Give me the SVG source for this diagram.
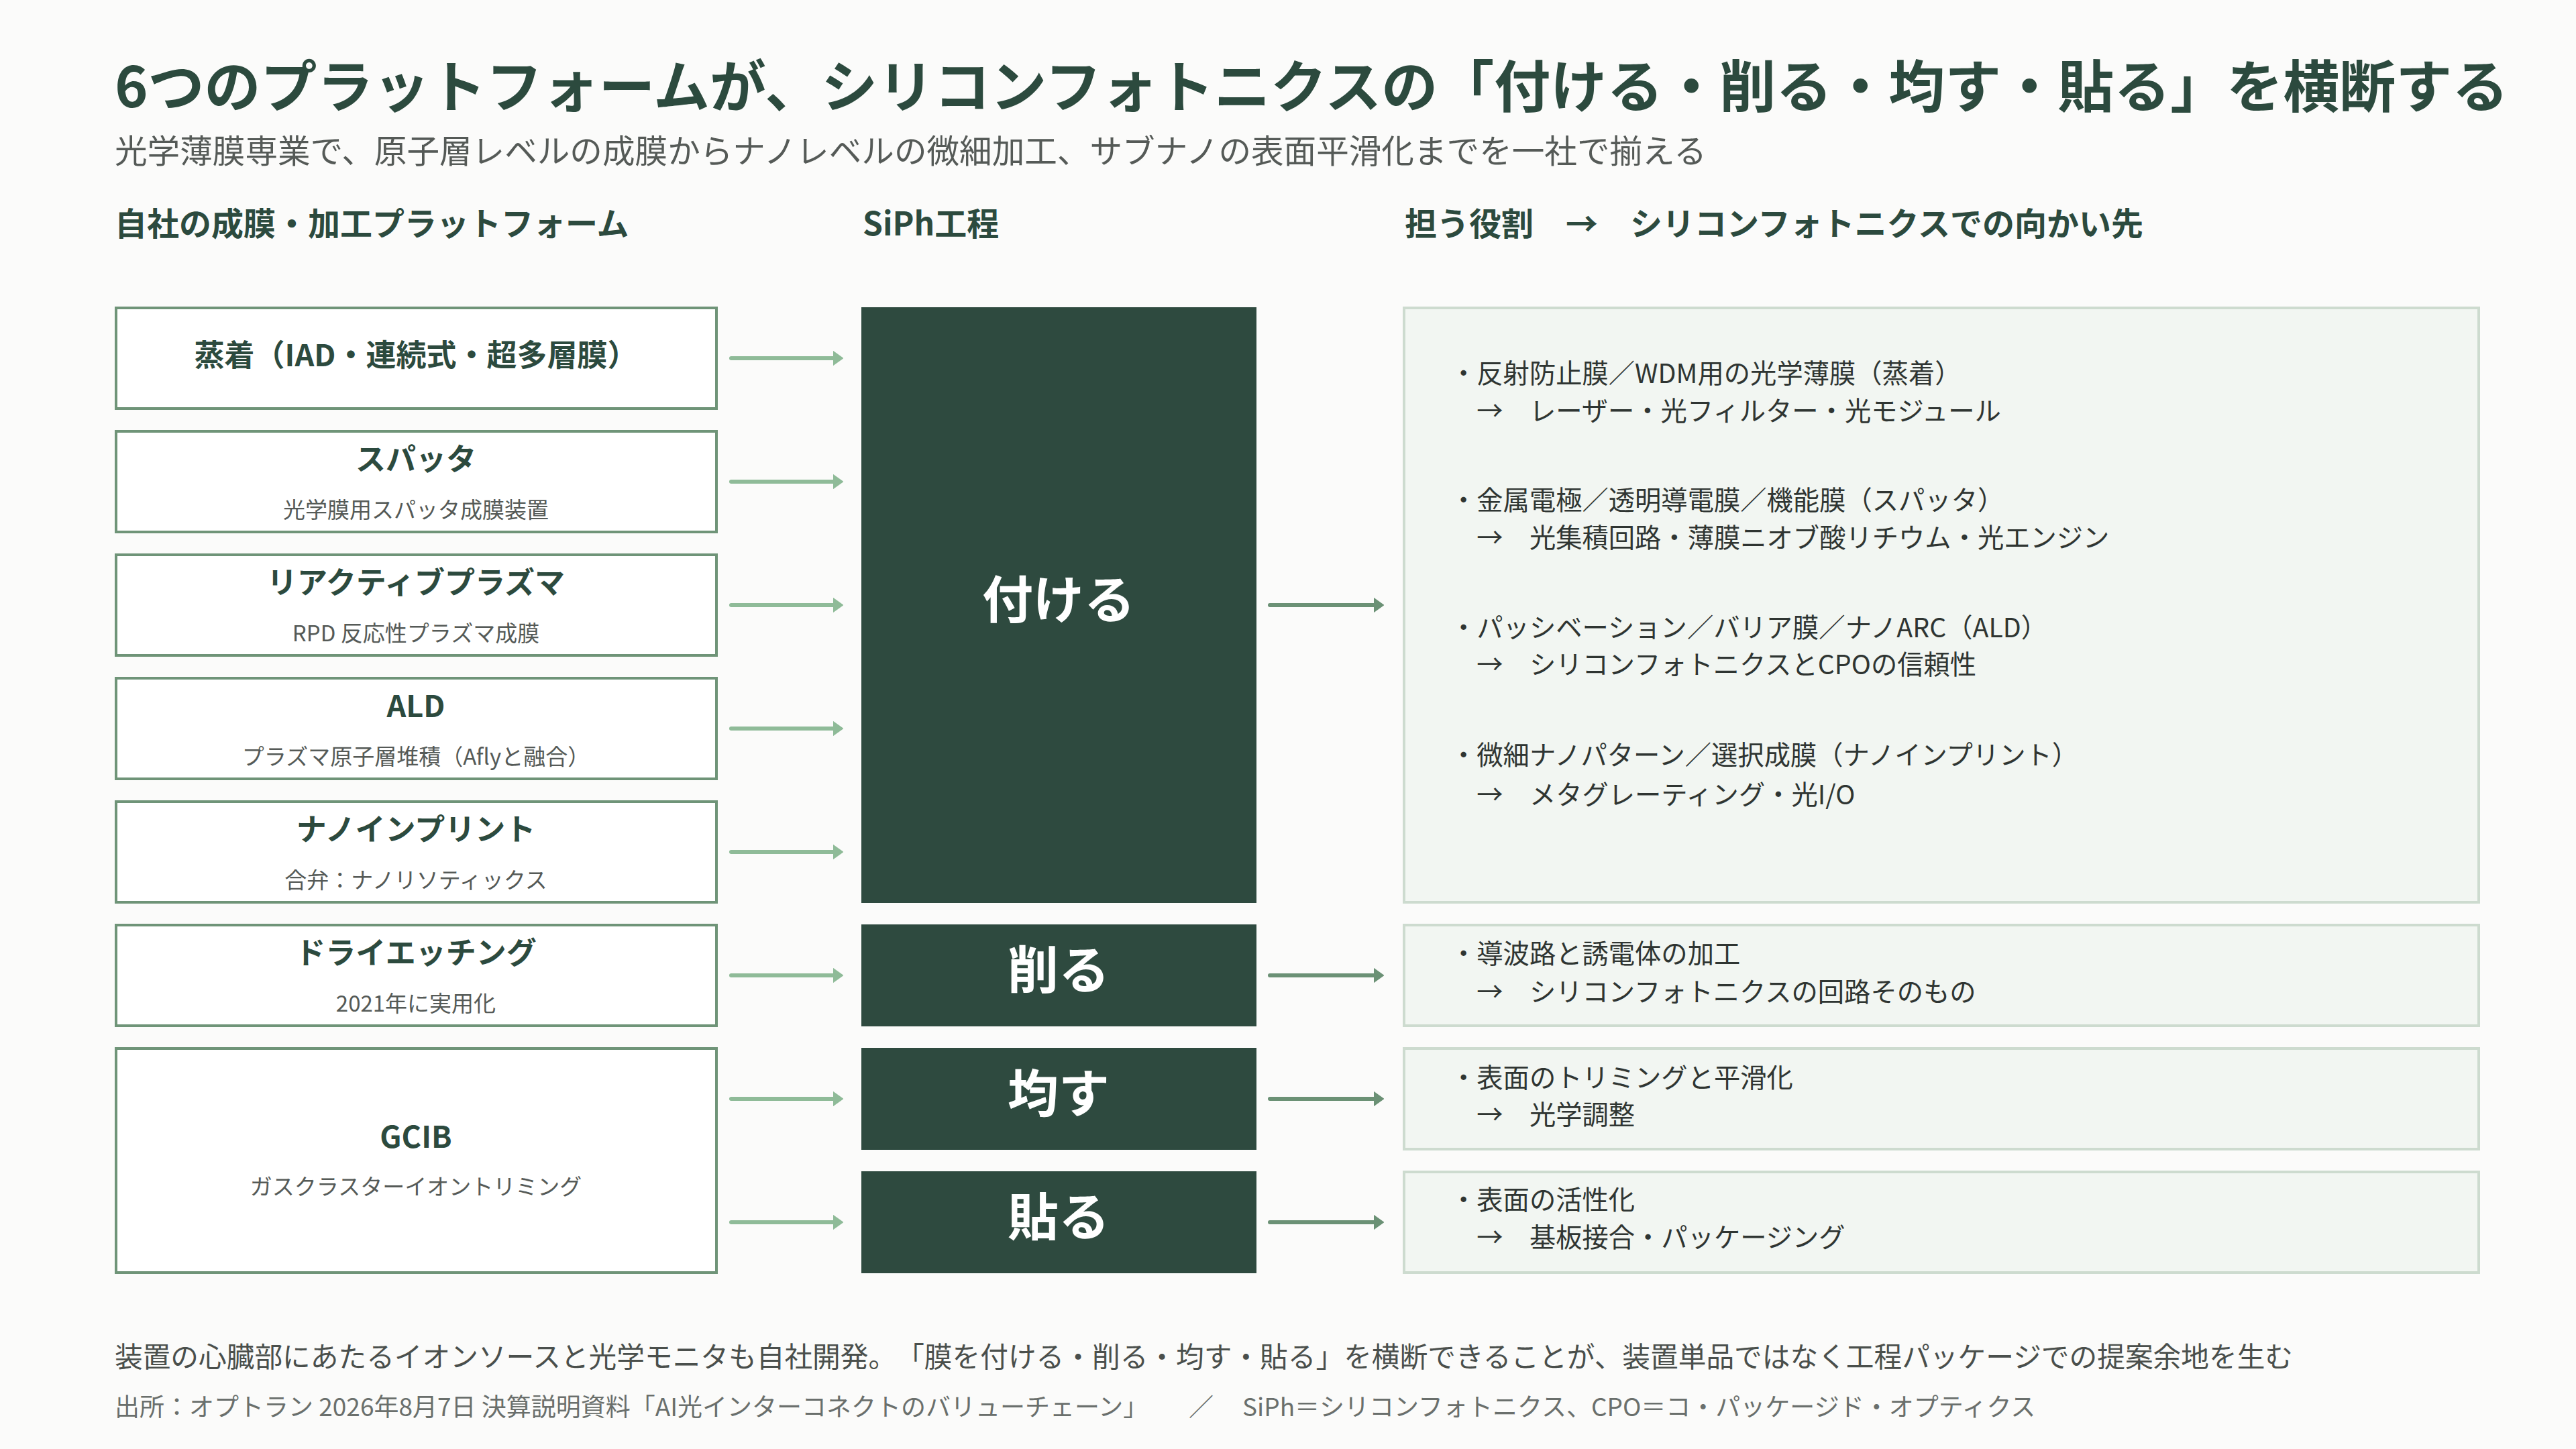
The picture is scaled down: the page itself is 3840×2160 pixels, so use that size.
<svg xmlns="http://www.w3.org/2000/svg" width="3840" height="2160" viewBox="0 0 3840 2160">
<defs>
<style>
text{font-family:"Noto Sans CJK JP","Noto Sans",sans-serif;text-spacing-trim:space-all;}
.title{font-size:84px;font-weight:700;fill:#2c4a3e;}
.sub{font-size:48.6px;fill:#555a57;}
.colh{font-size:48px;font-weight:700;fill:#2c4a3e;}
.lbox{fill:#ffffff;stroke:#6f9478;stroke-width:4;}
.lt{font-size:45px;font-weight:700;fill:#2c4a3e;text-anchor:middle;}
.ls{font-size:33px;fill:#555a57;text-anchor:middle;}
.cbox{fill:#2e4a3f;stroke:#2e4a3f;stroke-width:2;}
.ct{font-size:76px;font-weight:700;fill:#ffffff;text-anchor:middle;}
.rbox{fill:#f2f6f2;stroke:#cddbcf;stroke-width:4;}
.rt{font-size:39.3px;fill:#2f3532;}
.a1{stroke:#8fbb98;stroke-width:6;stroke-linecap:round;fill:none;}
.a2{stroke:#6b9175;stroke-width:6;stroke-linecap:round;fill:none;}
.foot{font-size:41.7px;fill:#4a4f4c;}
.src{font-size:37px;fill:#6a6f6c;}
</style>
<marker id="h1" markerUnits="userSpaceOnUse" markerWidth="20" markerHeight="24" viewBox="0 -12 20 24" refX="2" refY="0" orient="auto">
<path d="M0,-10 L14,0 L0,10 Z" fill="#8fbb98" stroke="#8fbb98" stroke-width="2" stroke-linejoin="round"/>
</marker>
<marker id="h2" markerUnits="userSpaceOnUse" markerWidth="20" markerHeight="24" viewBox="0 -12 20 24" refX="2" refY="0" orient="auto">
<path d="M0,-10 L14,0 L0,10 Z" fill="#6b9175" stroke="#6b9175" stroke-width="2" stroke-linejoin="round"/>
</marker>
</defs>
<rect width="3840" height="2160" fill="#fbfbfa"/>

<g id="header">
<text class="title" x="171" y="160">6つのプラットフォームが、シリコンフォトニクスの「付ける・削る・均す・貼る」を横断する</text>
<text class="sub" x="171" y="243">光学薄膜専業で、原子層レベルの成膜からナノレベルの微細加工、サブナノの表面平滑化までを一社で揃える</text>
<text class="colh" x="171" y="351">自社の成膜・加工プラットフォーム</text>
<text class="colh" x="1286" y="351">SiPh工程</text>
<text class="colh" x="2094" y="351">担う役割　→　シリコンフォトニクスでの向かい先</text>
</g>

<g id="platform-evaporation">
<rect class="lbox" x="173" y="459" width="895" height="150"/>
<text class="lt" x="620" y="546">蒸着（IAD・連続式・超多層膜）</text>
</g>
<g id="platform-sputter">
<rect class="lbox" x="173" y="643" width="895" height="150"/>
<text class="lt" x="620" y="701">スパッタ</text>
<text class="ls" x="620" y="772">光学膜用スパッタ成膜装置</text>
</g>
<g id="platform-rpd">
<rect class="lbox" x="173" y="827" width="895" height="150"/>
<text class="lt" x="620" y="885">リアクティブプラズマ</text>
<text class="ls" x="620" y="956">RPD 反応性プラズマ成膜</text>
</g>
<g id="platform-ald">
<rect class="lbox" x="173" y="1011" width="895" height="150"/>
<text class="lt" x="620" y="1069">ALD</text>
<text class="ls" x="620" y="1140">プラズマ原子層堆積（Aflyと融合）</text>
</g>
<g id="platform-nanoimprint">
<rect class="lbox" x="173" y="1195" width="895" height="150"/>
<text class="lt" x="620" y="1253">ナノインプリント</text>
<text class="ls" x="620" y="1324">合弁：ナノリソティックス</text>
</g>
<g id="platform-dryetch">
<rect class="lbox" x="173" y="1379" width="895" height="150"/>
<text class="lt" x="620" y="1437">ドライエッチング</text>
<text class="ls" x="620" y="1508">2021年に実用化</text>
</g>
<g id="platform-gcib">
<rect class="lbox" x="173" y="1563" width="895" height="334"/>
<text class="lt" x="620" y="1711">GCIB</text>
<text class="ls" x="620" y="1781">ガスクラスターイオントリミング</text>
</g>

<g id="step-deposit">
<rect class="cbox" x="1285" y="459" width="587" height="886"/>
<text class="ct" x="1578" y="922">付ける</text>
</g>
<g id="step-etch">
<rect class="cbox" x="1285" y="1379" width="587" height="150"/>
<text class="ct" x="1578" y="1474">削る</text>
</g>
<g id="step-smooth">
<rect class="cbox" x="1285" y="1563" width="587" height="150"/>
<text class="ct" x="1578" y="1658">均す</text>
</g>
<g id="step-bond">
<rect class="cbox" x="1285" y="1747" width="587" height="150"/>
<text class="ct" x="1578" y="1842">貼る</text>
</g>

<g id="role-deposit">
<rect class="rbox" x="2093" y="459" width="1602" height="886"/>
<text class="rt" x="2162" y="571">・反射防止膜／WDM用の光学薄膜（蒸着）</text>
<text class="rt" x="2162" y="627">　→　レーザー・光フィルター・光モジュール</text>
<text class="rt" x="2162" y="760">・金属電極／透明導電膜／機能膜（スパッタ）</text>
<text class="rt" x="2162" y="816">　→　光集積回路・薄膜ニオブ酸リチウム・光エンジン</text>
<text class="rt" x="2162" y="950">・パッシベーション／バリア膜／ナノARC（ALD）</text>
<text class="rt" x="2162" y="1005">　→　シリコンフォトニクスとCPOの信頼性</text>
<text class="rt" x="2162" y="1140">・微細ナノパターン／選択成膜（ナノインプリント）</text>
<text class="rt" x="2162" y="1199">　→　メタグレーティング・光I/O</text>
</g>
<g id="role-etch">
<rect class="rbox" x="2093" y="1379" width="1602" height="150"/>
<text class="rt" x="2162" y="1436">・導波路と誘電体の加工</text>
<text class="rt" x="2162" y="1493">　→　シリコンフォトニクスの回路そのもの</text>
</g>
<g id="role-smooth">
<rect class="rbox" x="2093" y="1563" width="1602" height="150"/>
<text class="rt" x="2162" y="1621">・表面のトリミングと平滑化</text>
<text class="rt" x="2162" y="1676">　→　光学調整</text>
</g>
<g id="role-bond">
<rect class="rbox" x="2093" y="1747" width="1602" height="150"/>
<text class="rt" x="2162" y="1803">・表面の活性化</text>
<text class="rt" x="2162" y="1859">　→　基板接合・パッケージング</text>
</g>

<g id="connectors">
<line class="a1" x1="1090" y1="534" x2="1244" y2="534" marker-end="url(#h1)"/>
<line class="a1" x1="1090" y1="718" x2="1244" y2="718" marker-end="url(#h1)"/>
<line class="a1" x1="1090" y1="902" x2="1244" y2="902" marker-end="url(#h1)"/>
<line class="a1" x1="1090" y1="1086" x2="1244" y2="1086" marker-end="url(#h1)"/>
<line class="a1" x1="1090" y1="1270" x2="1244" y2="1270" marker-end="url(#h1)"/>
<line class="a1" x1="1090" y1="1454" x2="1244" y2="1454" marker-end="url(#h1)"/>
<line class="a1" x1="1090" y1="1638" x2="1244" y2="1638" marker-end="url(#h1)"/>
<line class="a1" x1="1090" y1="1822" x2="1244" y2="1822" marker-end="url(#h1)"/>
<line class="a2" x1="1893" y1="902" x2="2050" y2="902" marker-end="url(#h2)"/>
<line class="a2" x1="1893" y1="1454" x2="2050" y2="1454" marker-end="url(#h2)"/>
<line class="a2" x1="1893" y1="1638" x2="2050" y2="1638" marker-end="url(#h2)"/>
<line class="a2" x1="1893" y1="1822" x2="2050" y2="1822" marker-end="url(#h2)"/>
</g>

<g id="footer">
<text class="foot" x="171" y="2038">装置の心臓部にあたるイオンソースと光学モニタも自社開発。「膜を付ける・削る・均す・貼る」を横断できることが、装置単品ではなく工程パッケージでの提案余地を生む</text>
<text class="src" x="171" y="2111">出所：オプトラン 2026年8月7日 決算説明資料「AI光インターコネクトのバリューチェーン」<tspan x="1772">／</tspan><tspan x="1852">SiPh＝シリコンフォトニクス、CPO＝コ・パッケージド・オプティクス</tspan></text>
</g>
</svg>
